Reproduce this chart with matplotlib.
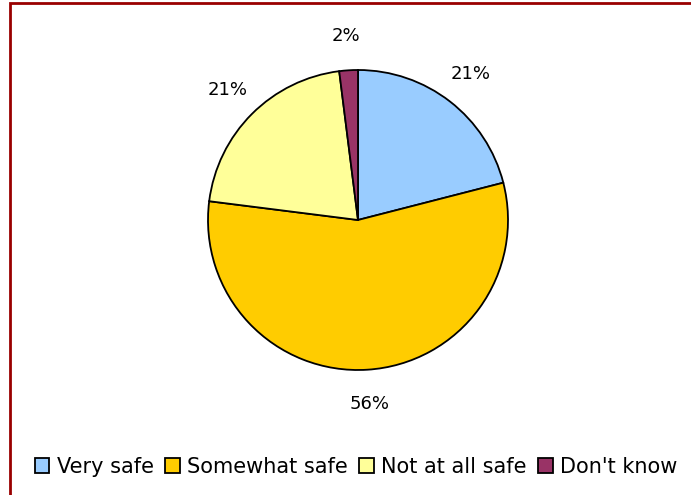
import matplotlib.pyplot as plt
from matplotlib.patches import Rectangle

labels = ["Very safe", "Somewhat safe", "Not at all safe", "Don't know"]
values = [21, 56, 21, 2]
colors = ["#99CCFF", "#FFCC00", "#FFFF99", "#993366"]

W, H = 691, 495
fig = plt.figure(figsize=(W / 100, H / 100), dpi=100)
plt.rcParams["font.family"] = ["DejaVu Sans"]

# dark red frame (right/bottom edges run off the image)
fig.patches.append(Rectangle((10 / W, -0.05), 1.1, 1 - 3 / H + 0.05,
                             transform=fig.transFigure, fill=False,
                             edgecolor="#990000", lw=2))

cx, cy, r = 358, 220, 150
box = 1.07 * r
ax = fig.add_axes([(cx - box) / W, (H - cy - box) / H, 2 * box / W, 2 * box / H])
wedges, _, autotexts = ax.pie(values, colors=colors, startangle=90, counterclock=False,
                              autopct="%d%%", pctdistance=1.23,
                              wedgeprops=dict(edgecolor="black", linewidth=1.3),
                              textprops=dict(fontsize=13, color="black"))
ax.set_xlim(-1.07, 1.07)
ax.set_ylim(-1.07, 1.07)
ax.set_aspect("equal")
ax.axis("off")

fig.legend(wedges, labels, loc="center", bbox_to_anchor=(356 / W, 1 - 467 / H),
           ncol=4, frameon=False, fontsize=15, handlelength=0.7, handleheight=0.7,
           handletextpad=0.35, columnspacing=0.55, borderpad=0)
for h in fig.legends[0].legend_handles:
    h.set_linewidth(1.3)

fig.savefig("out.png", dpi=100)
